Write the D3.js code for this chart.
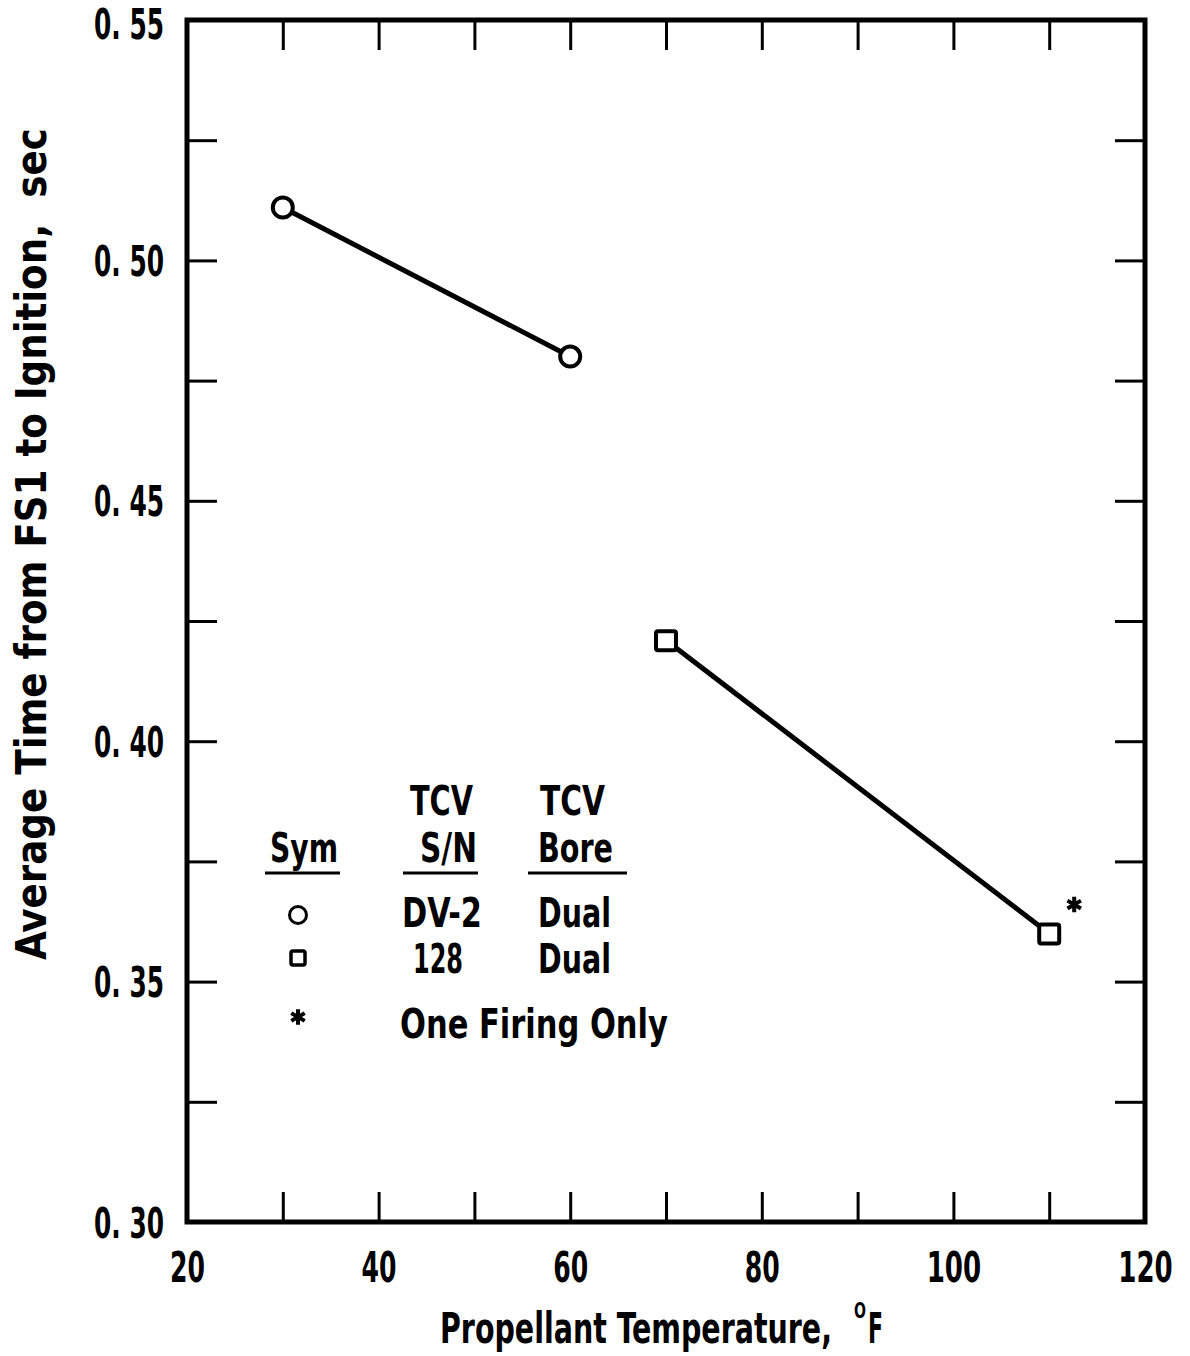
<!DOCTYPE html>
<html><head><meta charset="utf-8">
<script src="https://cdn.jsdelivr.net/npm/d3@7"></script>
<style>body{margin:0;background:#fff}svg{display:block}text{font-family:"DejaVu Sans Condensed","DejaVu Sans",sans-serif;font-weight:bold;fill:#000}</style>
</head><body><svg id="c" width="1190" height="1356"></svg>
<script>
// Data
const circleTemps = [30, 60];
const circleTimes = [0.511, 0.480];
const squareTemps = [70, 110];
const squareTimes = [0.421, 0.360];
const oneFiringTemp = [110];
const oneFiringTime = [0.360];
const xTicks = [20, 30, 40, 50, 60, 70, 80, 90, 100, 110, 120];
const xTickLabels = ["20", "", "40", "", "60", "", "80", "", "100", "", "120"];
const yTicks = [0.30, 0.325, 0.35, 0.375, 0.40, 0.425, 0.45, 0.475, 0.50, 0.525, 0.55];
const yTickLabels = ["0. 30", "", "0. 35", "", "0. 40", "", "0. 45", "", "0. 50", "", "0. 55"];
const legendHeaders1 = ["", "TCV", "TCV"];
const legendHeaders2 = ["Sym", "S/N", "Bore"];
const legendSerial = ["DV-2", "128"];
const legendBore = ["Dual", "Dual"];
const legendNote = "One Firing Only";
const xTitle = "Propellant Temperature,";
const xUnitSup = "O";
const xUnit = "F";
const yTitle = "Average Time from FS1 to Ignition,  sec";

const svg = d3.select("#c");
const L = 187, R = 1145, T = 20, B = 1222;
const x = d3.scaleLinear().domain([20, 120]).range([L, R]);
const y = d3.scaleLinear().domain([0.30, 0.55]).range([B, T]);

// squeeze a text horizontally to width w (condensed look)
function fit(sel, w, pre){
  const el = sel.node();
  const nat = el.getComputedTextLength();
  const sx = w / nat;
  const px = +sel.attr("x") || 0, py = +sel.attr("y") || 0;
  sel.attr("x", 0).attr("y", 0)
     .attr("transform", (pre || `translate(${px},${py})`) + ` scale(${sx},1)`);
  return sel;
}

const g = svg.append("g");
const tk = 30;
function styleAxis(sel){
  sel.select(".domain").remove();
  sel.selectAll(".tick line").attr("stroke","#000").attr("stroke-width",3);
}
g.append("g").attr("transform",`translate(0,${B})`)
  .call(d3.axisBottom(x).tickValues(xTicks).tickSize(-tk).tickPadding(0)
    .tickFormat((d,i)=>xTickLabels[i]))
  .call(styleAxis)
  .call(s=>s.selectAll(".tick text").attr("font-size",42).attr("dy",null).attr("y",60)
    .each(function(){ const t=d3.select(this).text(); if(t) fit(d3.select(this), t.length*17.5+(t.length>2?2:0)); }));
g.append("g").attr("transform",`translate(0,${T})`)
  .call(d3.axisTop(x).tickValues(xTicks).tickSize(-tk).tickFormat(""))
  .call(styleAxis);
g.append("g").attr("transform",`translate(${L},0)`)
  .call(d3.axisLeft(y).tickValues(yTicks).tickSize(-tk).tickPadding(0)
    .tickFormat((d,i)=>yTickLabels[i]))
  .call(styleAxis)
  .call(s=>s.selectAll(".tick text").attr("font-size",42).attr("x",-23).attr("dy",null)
    .attr("y",d=>d>=0.549?18:15)
    .each(function(){ const t=d3.select(this).text(); if(t) fit(d3.select(this),70); }));
g.append("g").attr("transform",`translate(${R},0)`)
  .call(d3.axisRight(y).tickValues(yTicks).tickSize(-tk).tickFormat(""))
  .call(styleAxis);
// frame
g.append("rect").attr("x",L).attr("y",T).attr("width",R-L).attr("height",B-T)
  .attr("fill","none").attr("stroke","#000").attr("stroke-width",5);

// lines
const line = d3.line().x(d=>x(d[0])).y(d=>y(d[1]));
const cData = circleTemps.map((t,i)=>[t,circleTimes[i]]);
const sData = squareTemps.map((t,i)=>[t,squareTimes[i]]);
[cData, sData].forEach(d=>{
  g.append("path").attr("d",line(d)).attr("fill","none").attr("stroke","#000").attr("stroke-width",5);
});
g.selectAll("circle.pt").data(cData).join("circle").attr("class","pt")
  .attr("cx",d=>x(d[0])).attr("cy",d=>y(d[1])).attr("r",10)
  .attr("fill","#fff").attr("stroke","#000").attr("stroke-width",4);
g.selectAll("rect.pt").data(sData).join("rect").attr("class","pt")
  .attr("x",d=>x(d[0])-10).attr("y",d=>y(d[1])-9).attr("width",20).attr("height",19).attr("rx",2)
  .attr("fill","#fff").attr("stroke","#000").attr("stroke-width",4);
const star = d3.symbol(d3.symbolAsterisk, 170);
oneFiringTemp.forEach((t,i)=>{
  g.append("path").attr("d",star()).attr("transform",`translate(${x(t)+25},${y(oneFiringTime[i])-29})`)
    .attr("fill","none").attr("stroke","#000").attr("stroke-width",4);
});

// legend
const fs = 41;
function lt(txt, x0, x1, yb){ return fit(g.append("text").attr("x",x0).attr("y",yb).attr("font-size",fs).text(txt), x1-x0); }
lt(legendHeaders1[1], 410, 473, 815);
lt(legendHeaders1[2], 540, 605, 815);
lt(legendHeaders2[0], 270, 338, 862);
lt(legendHeaders2[1], 420, 477, 862);
lt(legendHeaders2[2], 538, 613, 862);
const ul = [[265,340],[403,478],[528,627]];
ul.forEach(u=>g.append("line").attr("x1",u[0]).attr("x2",u[1]).attr("y1",873).attr("y2",873).attr("stroke","#000").attr("stroke-width",3));
lt(legendSerial[0], 402, 482, 927);
lt(legendSerial[1], 413, 463, 973);
lt(legendBore[0], 538, 611, 927);
lt(legendBore[1], 538, 611, 973);
lt(legendNote, 400, 668, 1038);
g.append("circle").attr("cx",298).attr("cy",915).attr("r",8.5).attr("fill","#fff").attr("stroke","#000").attr("stroke-width",3);
g.append("rect").attr("x",291).attr("y",951).attr("width",14).attr("height",14).attr("rx",2).attr("fill","#fff").attr("stroke","#000").attr("stroke-width",3.5);
g.append("path").attr("d",star()).attr("transform","translate(298,1017)")
  .attr("fill","none").attr("stroke","#000").attr("stroke-width",4);

// axis titles
fit(g.append("text").attr("x",440).attr("y",1343).attr("font-size",42).text(xTitle), 392);
fit(g.append("text").attr("x",854).attr("y",1318).attr("font-size",22).text(xUnitSup), 12);
fit(g.append("text").attr("x",868).attr("y",1343).attr("font-size",42).text(xUnit), 15);
fit(g.append("text").attr("font-size",42).attr("xml:space","preserve").text(yTitle), 832,
  "translate(46,960) rotate(-90)");
</script></body></html>
